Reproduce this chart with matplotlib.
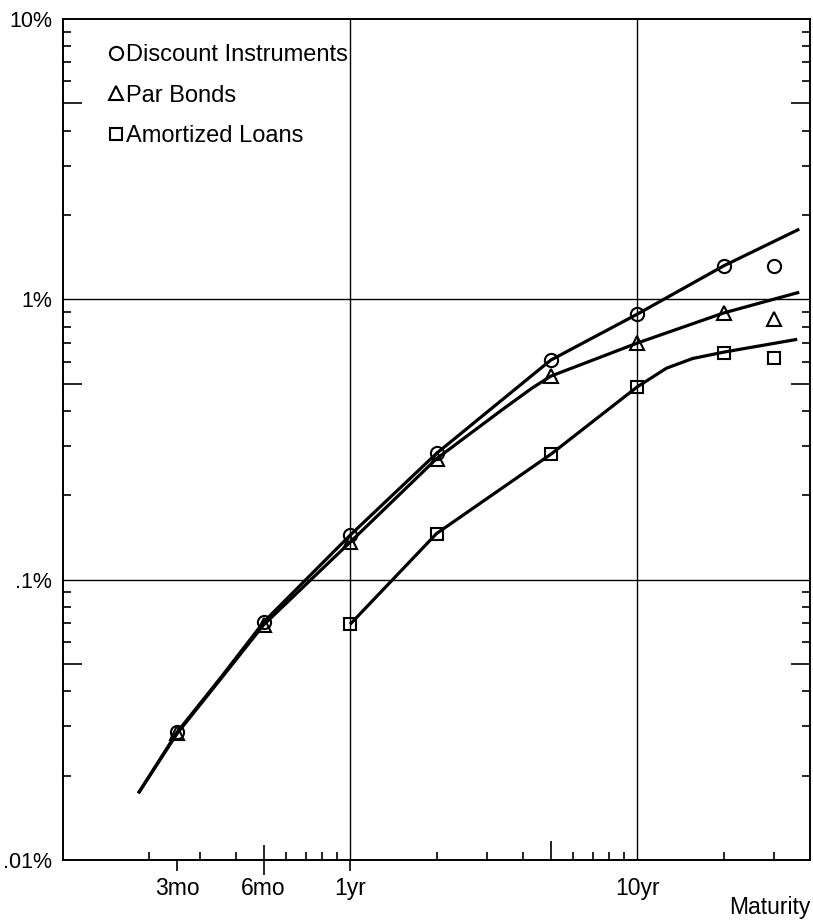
import matplotlib

matplotlib.use("Agg")
import matplotlib.pyplot as plt
from matplotlib.lines import Line2D
from matplotlib.ticker import NullFormatter

plt.rcParams["font.family"] = ["Liberation Sans", "DejaVu Sans"]

# maturities in years, values in percent
mat_x = [0.25, 0.5, 1, 2, 5, 10, 20]
disc_y = [0.0286, 0.0706, 0.144, 0.282, 0.607, 0.885, 1.316]
par_y = [0.0283, 0.069, 0.136, 0.270, 0.532, 0.698, 0.894]
amort_x = [1, 2, 5, 10, 20]
amort_y = [0.0693, 0.146, 0.280, 0.487, 0.644]

# stand-alone points at 30 years
long_x = [30]
long_disc = [1.31]
long_par = [0.854]
long_amort = [0.618]

# smooth curves
disc_curve_x = [0.183, 0.25, 0.356, 0.5, 1, 2, 5, 10, 20, 36.7]
disc_curve_y = [0.0173, 0.0286, 0.045, 0.0706, 0.144, 0.282, 0.607, 0.885, 1.316, 1.78]
par_curve_x = [0.183, 0.25, 0.356, 0.5, 1, 2, 3.4, 4.3, 5, 10, 20, 36.7]
par_curve_y = [0.0173, 0.0283, 0.0445, 0.069, 0.136, 0.270, 0.405, 0.482, 0.532, 0.698, 0.894, 1.06]
amort_curve_x = [1, 2, 5, 10, 12.65, 15.6, 20, 36.1]
amort_curve_y = [0.0693, 0.146, 0.280, 0.487, 0.568, 0.615, 0.648, 0.72]

x_tick_vals = [0.25, 0.5, 1, 10]
x_tick_labels = ["3mo", "6mo", "1yr", "10yr"]
x_minor = [0.2, 0.3, 0.4, 0.6, 0.7, 0.8, 0.9, 2, 3, 4, 5, 6, 7, 8, 9, 20, 30]
y_tick_vals = [0.01, 0.1, 1, 10]
y_tick_labels = [".01%", ".1%", "1%", "10%"]
y_decades = [0.01, 0.1, 1]
y_steps = [2, 3, 4, 5, 6, 7, 8, 9]
grid_x = [1, 10]
grid_y = [0.1, 1]

labels = ["Discount Instruments", "Par Bonds", "Amortized Loans"]

fig = plt.figure(figsize=(8.13, 9.21), dpi=100)
ax = fig.add_axes([63 / 813, 1 - 860 / 921, 747 / 813, 841 / 921])
ax.set_xscale("log")
ax.set_yscale("log")
ax.set_xlim(0.1, 40)
ax.set_ylim(0.01, 10)

for v in grid_x:
    ax.axvline(v, color="black", lw=1.0, zorder=1)
for v in grid_y:
    ax.axhline(v, color="black", lw=1.0, zorder=1)

line_kw = dict(color="black", lw=2.3, solid_capstyle="butt", solid_joinstyle="round", zorder=2)
ax.plot(disc_curve_x, disc_curve_y, **line_kw)
ax.plot(par_curve_x, par_curve_y, **line_kw)
ax.plot(amort_curve_x, amort_curve_y, **line_kw)

mk = dict(ls="none", mfc="none", mec="black", mew=1.5, zorder=3)
ax.plot(mat_x, disc_y, marker="o", ms=9.5, **mk)
ax.plot(mat_x, par_y, marker="^", ms=10, **mk)
ax.plot(amort_x, amort_y, marker="s", ms=9, **mk)
ax.plot(long_x, long_disc, marker="o", ms=9.5, **mk)
ax.plot(long_x, long_par, marker="^", ms=10, **mk)
ax.plot(long_x, long_amort, marker="s", ms=9, **mk)

handles = [
    Line2D([], [], marker="o", ms=9.5, **mk),
    Line2D([], [], marker="^", ms=10, **mk),
    Line2D([], [], marker="s", ms=9, **mk),
]
ax.legend(handles, labels, loc="upper left", bbox_to_anchor=(0.062, 0.970),
          frameon=False, fontsize=17, handlelength=0.55, handletextpad=0.15,
          labelspacing=0.78, borderpad=0, borderaxespad=0)

# ticks
y_minor = [d * k for d in y_decades for k in y_steps]
ax.set_xticks(x_tick_vals, labels=x_tick_labels)
ax.set_xticks(x_minor, minor=True)
ax.xaxis.set_minor_formatter(NullFormatter())
ax.set_yticks(y_tick_vals, labels=y_tick_labels)
ax.set_yticks(y_minor, minor=True)
ax.yaxis.set_minor_formatter(NullFormatter())

ax.tick_params(axis="x", which="major", direction="out", length=8, width=1.2,
               pad=4, labelsize=16.5)
ax.tick_params(axis="x", which="minor", direction="in", length=6, width=1.2)
ax.tick_params(axis="y", which="major", length=0, pad=8, labelsize=15.5)
ax.tick_params(axis="y", which="minor", direction="in", length=6, width=1.2,
               left=True, right=True)

for spine in ax.spines.values():
    spine.set_linewidth(1.4)

ax.set_xlabel("Maturity", loc="right", fontsize=16.5, labelpad=-3)

# longer ticks at 6mo, 5yr and at every 5 on the y axis
xmaj = ax.xaxis.get_major_ticks()
xmaj[1].tick1line.set_marker("|")
xmaj[1].tick1line.set_markersize(22)
xmaj[3].tick1line.set_visible(False)
xmin = ax.xaxis.get_minor_ticks()
xmin[x_minor.index(5)].tick1line.set_markersize(14)
ymin = ax.yaxis.get_minor_ticks()
for i in range(len(y_minor)):
    if y_steps[i % len(y_steps)] == 5:
        ymin[i].tick1line.set_markersize(14)
        ymin[i].tick2line.set_markersize(14)

fig.savefig("out.png", dpi=100)
